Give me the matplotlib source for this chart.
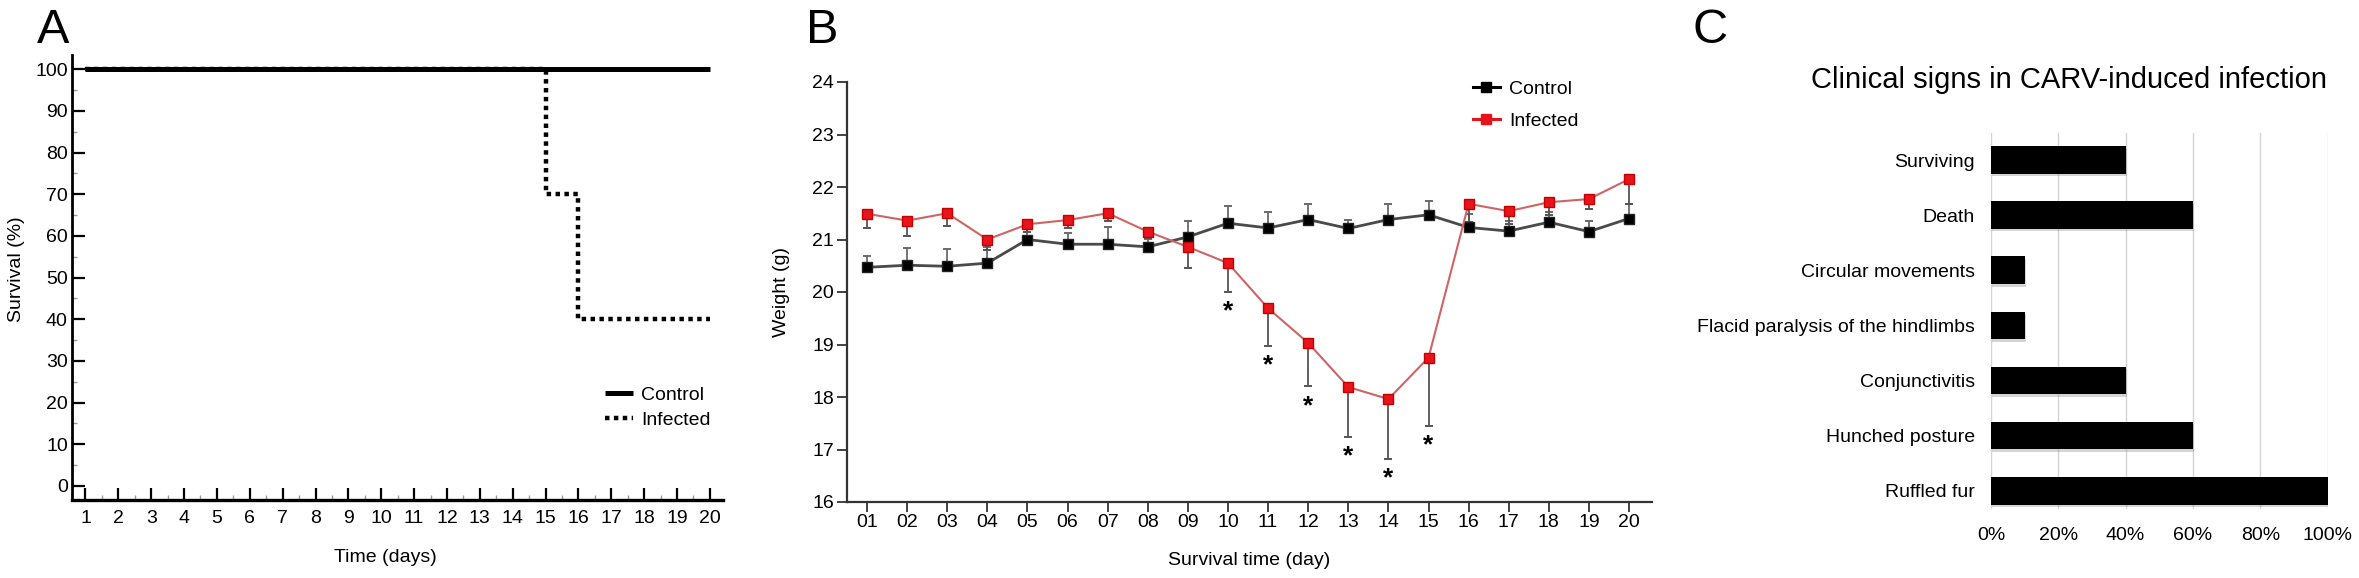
import matplotlib
matplotlib.use('Agg')
import matplotlib.pyplot as plt
from matplotlib.ticker import MultipleLocator, FixedLocator
import matplotlib.patheffects as pe

plt.rcParams['font.family'] = ['Liberation Sans', 'DejaVu Sans']

# ---------------- data ----------------
# Panel A: Kaplan-Meier survival
surv_days = [1, 2, 3, 4, 5, 6, 7, 8, 9, 10, 11, 12, 13, 14, 15, 16, 17, 18, 19, 20]
surv_control = [100, 100, 100, 100, 100, 100, 100, 100, 100, 100,
                100, 100, 100, 100, 100, 100, 100, 100, 100, 100]
surv_infected = [100, 100, 100, 100, 100, 100, 100, 100, 100, 100,
                 100, 100, 100, 100, 70, 40, 40, 40, 40, 40]

# Panel B: body weight
weight_days = [1, 2, 3, 4, 5, 6, 7, 8, 9, 10, 11, 12, 13, 14, 15, 16, 17, 18, 19, 20]
weight_day_labels = ['01', '02', '03', '04', '05', '06', '07', '08', '09', '10',
                     '11', '12', '13', '14', '15', '16', '17', '18', '19', '20']
weight_control = [20.47, 20.51, 20.49, 20.55, 21.00, 20.91, 20.91, 20.86, 21.05, 21.31,
                  21.22, 21.38, 21.21, 21.38, 21.47, 21.23, 21.16, 21.33, 21.15, 21.40]
weight_control_err = [0.22, 0.33, 0.32, 0.30, 0.28, 0.21, 0.33, 0.15, 0.30, 0.32,
                      0.30, 0.30, 0.17, 0.30, 0.26, 0.25, 0.20, 0.20, 0.20, 0.28]
weight_infected = [21.49, 21.36, 21.50, 21.00, 21.29, 21.37, 21.50, 21.15, 20.86, 20.55,
                   19.69, 19.03, 18.19, 17.96, 18.75, 21.68, 21.54, 21.71, 21.77, 22.15]
weight_infected_err = [0.28, 0.29, 0.24, 0.20, 0.15, 0.15, 0.15, 0.12, 0.40, 0.55,
                       0.71, 0.83, 0.95, 1.14, 1.31, 0.35, 0.25, 0.25, 0.18, 0.47]
significant_days = [10, 11, 12, 13, 14, 15]

# Panel C: clinical signs
signs = ['Surviving', 'Death', 'Circular movements', 'Flacid paralysis of the hindlimbs',
         'Conjunctivitis', 'Hunched posture', 'Ruffled fur']
sign_pct = [40, 60, 10, 10, 40, 60, 100]
pct_ticks = [0, 20, 40, 60, 80, 100]

# ---------------- figure ----------------
W, H, DPI = 2359, 578, 100
fig = plt.figure(figsize=(W / DPI, H / DPI), dpi=DPI)


def rect(l, r, t, b):
    return [l / W, 1 - b / H, (r - l) / W, (b - t) / H]


def ftext(x, y, s, **kw):
    fig.text(x / W, 1 - y / H, s, **kw)


# ---------------- Panel A ----------------
axA = fig.add_axes(rect(72, 723, 55, 500))
axA.plot(surv_days, surv_control, color='black', lw=3.6, solid_capstyle='butt',
         label='Control', zorder=3)
axA.plot(surv_days, surv_infected, color='black', lw=3.2, linestyle=(0, (1, 1)),
         drawstyle='steps-post', label='Infected', zorder=4)
axA.set_xlim(0.59, 20.40)
axA.set_ylim(-3.36, 103.43)
axA.xaxis.set_major_locator(FixedLocator(surv_days))
axA.yaxis.set_major_locator(MultipleLocator(10))
axA.xaxis.set_minor_locator(MultipleLocator(0.5))
axA.yaxis.set_minor_locator(MultipleLocator(5))
for s in ['top', 'right']:
    axA.spines[s].set_visible(False)
axA.spines['left'].set_linewidth(2.0)
axA.spines['bottom'].set_linewidth(2.4)
axA.tick_params(which='major', direction='in', length=9, width=1.6, color='black',
                labelsize=14)
axA.tick_params(which='minor', direction='in', length=3.5, width=1.0, color='#9a9a9a')
axA.tick_params(axis='x', which='major', pad=7)
axA.tick_params(axis='y', which='major', pad=3)
axA.legend(loc='upper left', bbox_to_anchor=(0.819, 0.256), frameon=False, fontsize=14,
           borderpad=0, borderaxespad=0, handlelength=1.45, handletextpad=0.4,
           labelspacing=0.4)
ftext(385, 562, 'Time (days)', ha='center', va='baseline', fontsize=14)
ftext(17, 269, 'Survival (%)', ha='center', va='center', rotation=90, fontsize=14)
ftext(53, 43, 'A', ha='center', va='baseline', fontsize=35)

# ---------------- Panel B ----------------
axB = fig.add_axes(rect(846.6, 1651.5, 82, 502))
zeros = [0] * len(weight_days)
axB.errorbar(weight_days, weight_control, yerr=[zeros, weight_control_err], fmt='none',
             ecolor='#6a6a6a', elinewidth=1.3, capsize=2.8, capthick=1.4, zorder=2)
axB.errorbar(weight_days, weight_infected, yerr=[weight_infected_err, zeros], fmt='none',
             ecolor='#555555', elinewidth=1.3, capsize=2.8, capthick=1.4, zorder=2)
axB.plot(weight_days, weight_control, color='#4a4a4a', lw=2.0, marker='s', markersize=7,
         markerfacecolor='black', markeredgecolor='#222222', zorder=3)
axB.plot(weight_days, weight_infected, color='#cf6464', lw=1.5, marker='s', markersize=7,
         markerfacecolor='#e8141b', markeredgecolor='#c40000', zorder=4)
for d in significant_days:
    i = weight_days.index(d)
    axB.text(d, weight_infected[i] - weight_infected_err[i] - 0.14, '*', ha='center',
             va='top', fontsize=19, fontweight='bold')
axB.set_xlim(0.49, 20.56)
axB.set_ylim(16, 24)
axB.set_xticks(weight_days)
axB.set_xticklabels(weight_day_labels)
axB.yaxis.set_major_locator(MultipleLocator(1))
for s in ['top', 'right']:
    axB.spines[s].set_visible(False)
for s in ['left', 'bottom']:
    axB.spines[s].set_linewidth(1.6)
    axB.spines[s].set_color('#333333')
axB.tick_params(direction='out', length=7.5, width=1.3, color='#333333', labelsize=14)
axB.tick_params(axis='x', pad=1)
axB.tick_params(axis='y', pad=1.5)
leg_ctrl, = axB.plot([], [], color='black', lw=2.2, marker='s', markersize=7.5,
                     markerfacecolor='black', markeredgecolor='black', label='Control')
leg_inf, = axB.plot([], [], color='#e8141b', lw=2.2, marker='s', markersize=7.5,
                    markerfacecolor='#e8141b', markeredgecolor='#e8141b', label='Infected')
axB.legend(handles=[leg_ctrl, leg_inf], loc='upper left', bbox_to_anchor=(0.778, 1.005),
           frameon=False, fontsize=14, borderpad=0, borderaxespad=0, handlelength=1.4,
           handletextpad=0.45, labelspacing=0.75)
ftext(1249, 565, 'Survival time (day)', ha='center', va='baseline', fontsize=14)
ftext(782, 292, 'Weight (g)', ha='center', va='center', rotation=90, fontsize=14)
ftext(822, 43, 'B', ha='center', va='baseline', fontsize=35)

# ---------------- Panel C ----------------
axC = fig.add_axes(rect(1991, 2327.5, 133, 509))
ypos = list(range(len(signs) - 1, -1, -1))
for t in pct_ticks:
    axC.axvline(t, color='#d4d4d4', lw=1.0, zorder=0)
axC.barh(ypos, sign_pct, height=0.5, color='black', zorder=3,
         path_effects=[pe.SimplePatchShadow(offset=(1.0, -1.8), shadow_rgbFace='#777777',
                                            alpha=0.3), pe.Normal()])
axC.set_xlim(0, 100)
axC.set_ylim(-0.33, 6.49)
axC.set_yticks(ypos)
axC.set_yticklabels(signs)
axC.set_xticks(pct_ticks)
axC.set_xticklabels([f'{t}%' for t in pct_ticks])
for s in axC.spines.values():
    s.set_visible(False)
axC.tick_params(length=0, labelsize=14)
axC.tick_params(axis='y', pad=11.5)
axC.tick_params(axis='x', pad=13)
ftext(2069, 88, 'Clinical signs in CARV-induced infection', ha='center', va='baseline',
      fontsize=21)
ftext(1710, 43, 'C', ha='center', va='baseline', fontsize=35)

fig.savefig('out.png', dpi=DPI)
